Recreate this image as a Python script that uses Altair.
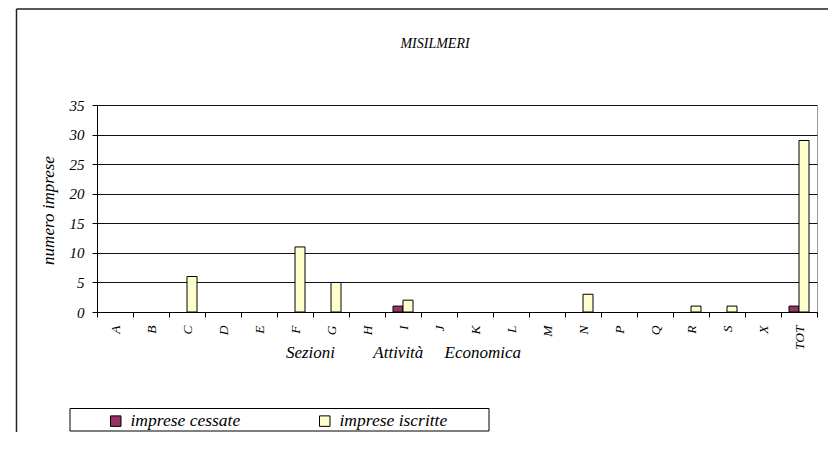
import altair as alt
import pandas as pd

categories = ["A", "B", "C", "D", "E", "F", "G", "H", "I", "J", "K", "L", "M", "N", "P", "Q", "R", "S", "X", "TOT"]
series = ["imprese cessate", "imprese iscritte"]
cessate = [0, 0, 0, 0, 0, 0, 0, 0, 1, 0, 0, 0, 0, 0, 0, 0, 0, 0, 0, 1]
iscritte = [0, 0, 6, 0, 0, 11, 5, 0, 2, 0, 0, 0, 0, 3, 0, 0, 1, 1, 0, 29]
title_text = "MISILMERI"
x_title = "Sezioni" + "\u00a0" * 9 + "Attività" + "\u00a0" * 5 + "Economica"
y_title = "numero imprese"

rows = []
for c, a, b in zip(categories, cessate, iscritte):
    rows.append({"cat": c, "serie": series[0], "val": a})
    rows.append({"cat": c, "serie": series[1], "val": b})
df = pd.DataFrame(rows)
df = df[df["val"] > 0]

FONT = "Liberation Serif"

bars = alt.Chart(df).mark_bar(stroke="black", strokeWidth=1).encode(
    x=alt.X(
        "cat:N",
        scale=alt.Scale(domain=categories, paddingInner=0, paddingOuter=0),
        axis=alt.Axis(
            title=x_title,
            titleFont=FONT, titleFontSize=17, titleFontStyle="italic", titleFontWeight="normal",
            titleColor="black", titleX=306, titleY=40, titleAlign="center", titleBaseline="middle",
            labelAngle=270, labelFont=FONT, labelFontSize=13.5, labelFontStyle="italic",
            labelColor="black", labelPadding=8, labelAlign="right", labelBaseline="middle",
            tickBand="extent", tickSize=5, tickColor="black", domainColor="black",
            grid=False,
        ),
    ),
    xOffset=alt.XOffset("serie:N", scale=alt.Scale(domain=series, paddingInner=0, paddingOuter=0.8)),
    y=alt.Y(
        "val:Q",
        scale=alt.Scale(domain=[0, 35], nice=False),
        axis=alt.Axis(
            title=y_title, values=[0, 5, 10, 15, 20, 25, 30, 35],
            titleFont=FONT, titleFontSize=17, titleFontStyle="italic", titleFontWeight="normal",
            titleColor="black", titleX=-49, titleY=105, titleAngle=270,
            titleAlign="center", titleBaseline="middle",
            labelFont=FONT, labelFontSize=15, labelFontStyle="italic", labelColor="black",
            labelPadding=8, tickSize=5, tickColor="black", domainColor="black",
            grid=True, gridColor="#111", gridWidth=1,
        ),
    ),
    color=alt.Color(
        "serie:N",
        scale=alt.Scale(domain=series, range=["#993366", "#FFFFCC"]),
        legend=alt.Legend(
            title=None, orient="none", legendX=10, legendY=307,
            direction="horizontal", columns=2, columnPadding=75,
            symbolType="square", symbolSize=110, symbolStrokeColor="black",
            symbolStrokeWidth=1, labelOffset=6,
            labelFont=FONT, labelFontSize=17.5, labelFontStyle="italic", labelColor="black",
            padding=0,
        ),
    ),
)

one = pd.DataFrame({"a": [0]})

frame_top = alt.Chart(one).mark_rule(stroke="#222", strokeWidth=1.5).encode(
    x=alt.value(-80.5), x2=alt.value(731), y=alt.value(-96)
)
frame_left = alt.Chart(one).mark_rule(stroke="#222", strokeWidth=1.5).encode(
    x=alt.value(-80.5), y=alt.value(-96), y2=alt.value(327)
)

legend_box = alt.Chart(one).mark_rect(fillOpacity=0, stroke="black", strokeWidth=1).encode(
    x=alt.value(-27), x2=alt.value(392), y=alt.value(303.5), y2=alt.value(326)
)

title = alt.Chart(one).mark_text(
    text=title_text, font=FONT, fontSize=14, fontStyle="italic", color="black",
    align="center", baseline="middle"
).encode(x=alt.value(338), y=alt.value(-61))

chart = alt.layer(bars, frame_top, frame_left, legend_box, title).properties(
    width=720, height=207,
    autosize=alt.AutoSizeParams(type="none"),
    padding={"left": 89, "top": 97, "right": 11, "bottom": 120},
    background="white",
).configure_view(stroke="#999", strokeWidth=1)

chart.save("out.html", embed_options={"renderer": "svg", "actions": False})
